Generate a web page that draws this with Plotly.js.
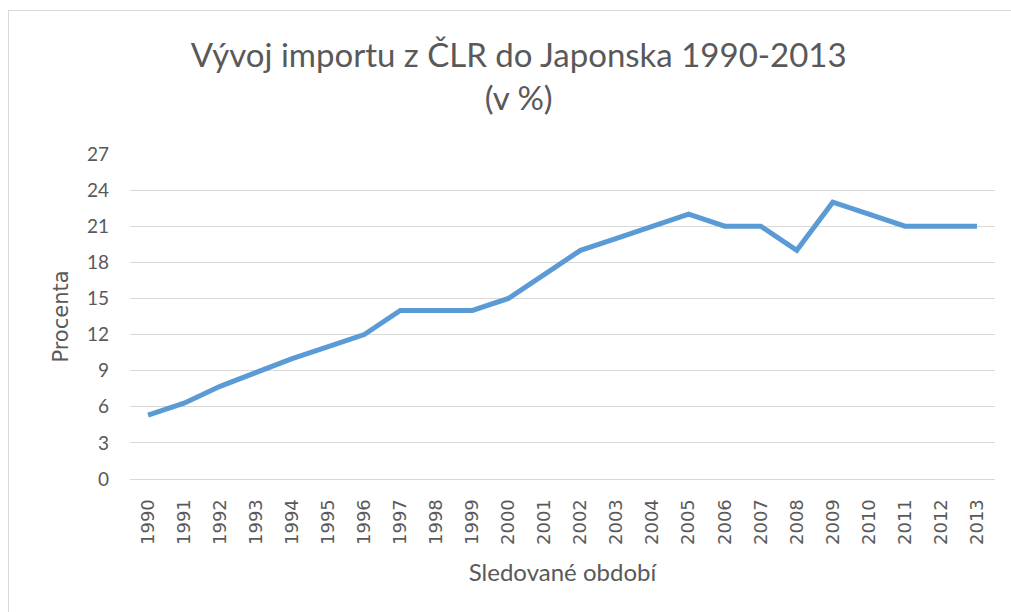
<!DOCTYPE html>
<html>
<head>
<meta charset="utf-8">
<script src="https://cdn.plot.ly/plotly-3.0.1.min.js"></script>
<style>
html,body{margin:0;padding:0;background:#fff;}
#frame{position:absolute;left:8px;top:10px;width:1010px;height:610px;border:1px solid #d9d9d9;box-sizing:border-box;}
#chart{width:1011px;height:612px;position:absolute;left:0;top:0;}
</style>
</head>
<body>
<div id="frame"></div>
<div id="chart"></div>
<script>
const years = ["1990","1991","1992","1993","1994","1995","1996","1997","1998","1999","2000","2001","2002","2003","2004","2005","2006","2007","2008","2009","2010","2011","2012","2013"];
const percent = [5.3,6.3,7.7,8.85,10,11,12,14,14,14,15,17,19,20,21,22,21,21,19,23,22,21,21,21];
const yTicks = [0,3,6,9,12,15,18,21,24,27];

const trace = {
  x: years, y: percent, type: 'scatter', mode: 'lines',
  line: {color: '#5b9bd5', width: 5, shape: 'linear'},
  hoverinfo: 'skip'
};
const layout = {
  width: 1011, height: 612,
  paper_bgcolor: 'rgba(0,0,0,0)', plot_bgcolor: 'rgba(0,0,0,0)',
  margin: {l:130, r:16, t:154, b:133},
  showlegend: false,
  title: {
    text: 'Vývoj importu z ČLR do Japonska 1990-2013<br>(v %)',
    font: {family: 'Lato, "Open Sans", sans-serif', size: 33, color: '#595959'},
    x: 0.513, xanchor: 'center', yref: 'container', y: 0.89, yanchor: 'middle'
  },
  xaxis: {
    type: 'category', range: [-0.5, 23.5],
    tickangle: -90, showgrid: false, zeroline: false,
    showline: true, linecolor: '#d9d9d9', linewidth: 1,
    ticks: '', ticklen: 0, ticklabelstandoff: 12,
    tickfont: {family: '"DejaVu Sans", sans-serif', size: 18, color: '#595959'},
    title: {text: 'Sledované období', standoff: 20,
      font: {family: 'Lato, "Open Sans", sans-serif', size: 24, color: '#595959'}}
  },
  yaxis: {
    range: [0, 27], tickvals: yTicks, ticktext: yTicks.map(String),
    showgrid: true, gridcolor: '#d9d9d9', gridwidth: 1,
    zeroline: false, showline: false, ticks: '', ticklabelstandoff: 20,
    tickfont: {family: 'Lato, "Open Sans", sans-serif', size: 19, color: '#595959'},
    title: {text: 'Procenta', standoff: 12,
      font: {family: '"DejaVu Sans", sans-serif', size: 21, color: '#595959'}}
  }
};
Plotly.newPlot('chart', [trace], layout, {displayModeBar: false, staticPlot: true});
</script>
</body>
</html>
